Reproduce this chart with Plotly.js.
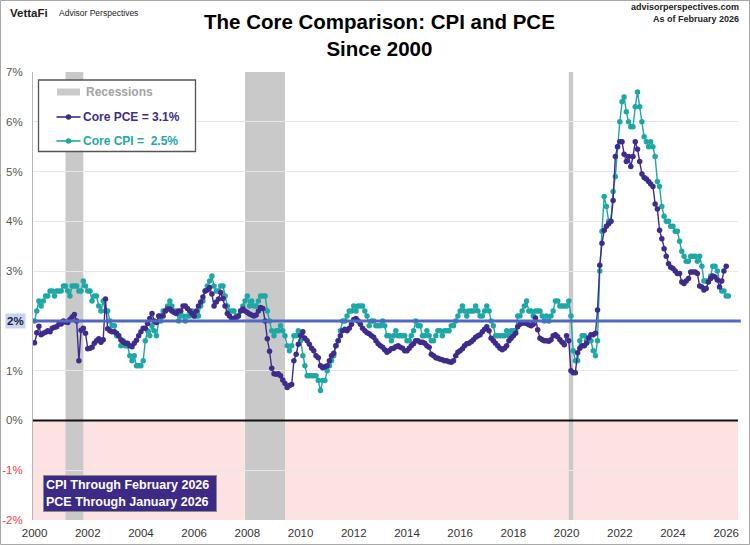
<!DOCTYPE html>
<html>
<head>
<meta charset="utf-8">
<script src="https://cdn.plot.ly/plotly-3.0.1.min.js"></script>
<style>
  html, body { margin: 0; padding: 0; background: #fff; }
  #chart { width: 750px; height: 545px; }
</style>
</head>
<body>
<div id="chart"></div>
<script>
// Monthly year-over-year core inflation, starting January 2000.
const firstYear = 2000;

// Core CPI, % y/y (Jan 2000 .. Feb 2026); October 2025 was not published.
const coreCpi = [
  2.0, 2.2, 2.4, 2.3, 2.4, 2.5, 2.5, 2.6, 2.6, 2.5, 2.6, 2.6,   // 2000
  2.6, 2.7, 2.7, 2.6, 2.5, 2.7, 2.7, 2.7, 2.6, 2.6, 2.8, 2.7,   // 2001
  2.6, 2.6, 2.4, 2.5, 2.5, 2.3, 2.2, 2.4, 2.2, 2.2, 2.0, 1.9,   // 2002
  1.9, 1.7, 1.7, 1.5, 1.6, 1.5, 1.5, 1.3, 1.2, 1.3, 1.1, 1.1,   // 2003
  1.1, 1.2, 1.6, 1.8, 1.7, 1.9, 1.8, 1.7, 2.0, 2.0, 2.2, 2.2,   // 2004
  2.3, 2.4, 2.3, 2.2, 2.2, 2.0, 2.1, 2.1, 2.0, 2.1, 2.1, 2.2,   // 2005
  2.1, 2.1, 2.1, 2.3, 2.4, 2.6, 2.7, 2.8, 2.9, 2.7, 2.6, 2.6,   // 2006
  2.7, 2.7, 2.5, 2.3, 2.2, 2.2, 2.2, 2.1, 2.1, 2.2, 2.3, 2.4,   // 2007
  2.5, 2.3, 2.4, 2.3, 2.3, 2.4, 2.5, 2.5, 2.5, 2.2, 2.0, 1.8,   // 2008
  1.7, 1.8, 1.8, 1.9, 1.8, 1.7, 1.5, 1.4, 1.5, 1.7, 1.7, 1.8,   // 2009
  1.6, 1.3, 1.1, 0.9, 0.9, 0.9, 0.9, 0.9, 0.8, 0.6, 0.8, 0.8,   // 2010
  1.0, 1.1, 1.2, 1.3, 1.5, 1.6, 1.8, 2.0, 2.0, 2.1, 2.2, 2.2,   // 2011
  2.3, 2.2, 2.3, 2.3, 2.3, 2.2, 2.1, 1.9, 2.0, 2.0, 1.9, 1.9,   // 2012
  1.9, 2.0, 1.9, 1.7, 1.7, 1.6, 1.7, 1.8, 1.7, 1.7, 1.7, 1.7,   // 2013
  1.6, 1.6, 1.7, 1.8, 2.0, 1.9, 1.9, 1.7, 1.7, 1.8, 1.7, 1.6,   // 2014
  1.6, 1.7, 1.8, 1.8, 1.7, 1.8, 1.8, 1.8, 1.9, 1.9, 2.0, 2.1,   // 2015
  2.2, 2.3, 2.2, 2.1, 2.2, 2.2, 2.2, 2.3, 2.2, 2.1, 2.1, 2.2,   // 2016
  2.3, 2.2, 2.0, 1.9, 1.7, 1.7, 1.7, 1.7, 1.7, 1.8, 1.7, 1.8,   // 2017
  1.8, 1.8, 2.1, 2.1, 2.2, 2.3, 2.4, 2.2, 2.2, 2.1, 2.2, 2.2,   // 2018
  2.2, 2.1, 2.0, 2.1, 2.0, 2.1, 2.2, 2.4, 2.4, 2.3, 2.3, 2.3,   // 2019
  2.3, 2.4, 2.1, 1.4, 1.2, 1.2, 1.6, 1.7, 1.7, 1.6, 1.6, 1.6,   // 2020
  1.4, 1.3, 1.6, 3.0, 3.8, 4.5, 4.3, 4.0, 4.0, 4.6, 4.9, 5.5,   // 2021
  6.0, 6.4, 6.5, 6.2, 6.0, 5.9, 5.9, 6.3, 6.6, 6.3, 6.0, 5.7,   // 2022
  5.6, 5.5, 5.6, 5.5, 5.3, 4.8, 4.7, 4.3, 4.1, 4.0, 4.0, 3.9,   // 2023
  3.9, 3.8, 3.8, 3.6, 3.4, 3.3, 3.2, 3.2, 3.3, 3.3, 3.3, 3.2,   // 2024
  3.3, 3.1, 2.8, 2.8, 2.8, 2.9, 3.1, 3.1, 3.0, null, 2.6, 2.6,  // 2025
  2.5, 2.5                                                      // 2026
];

// Core PCE price index, % y/y (Jan 2000 .. Jan 2026).
const corePce = [
  1.56, 1.76, 1.89, 1.72, 1.75, 1.77, 1.80, 1.78, 1.85, 1.87, 1.88, 1.94,   // 2000
  1.94, 2.00, 1.98, 1.97, 2.03, 2.08, 2.13, 2.00, 1.20, 1.81, 1.85, 1.75,   // 2001
  1.44, 1.45, 1.47, 1.55, 1.60, 1.64, 1.57, 1.62, 2.44, 1.84, 1.80, 1.78,   // 2002
  1.78, 1.75, 1.70, 1.62, 1.58, 1.55, 1.55, 1.50, 1.48, 1.55, 1.61, 1.70,   // 2003
  1.78, 1.85, 1.85, 1.95, 2.05, 2.15, 2.00, 1.97, 2.10, 2.10, 2.10, 2.20,   // 2004
  2.24, 2.24, 2.20, 2.17, 2.15, 2.20, 2.20, 2.30, 2.30, 2.25, 2.20, 2.15,   // 2005
  2.10, 2.20, 2.30, 2.38, 2.48, 2.60, 2.62, 2.67, 2.54, 2.30, 2.38, 2.44,   // 2006
  2.57, 2.45, 2.30, 2.15, 2.10, 2.05, 2.05, 2.07, 2.10, 2.20, 2.24, 2.20,   // 2007
  2.17, 2.14, 2.12, 2.10, 2.12, 2.20, 2.27, 2.25, 2.00, 1.64, 1.39, 1.05,   // 2008
  0.94, 0.93, 0.94, 0.90, 0.81, 0.74, 0.66, 0.70, 0.72, 1.20, 1.33, 1.53,   // 2009
  1.70, 1.78, 1.65, 1.60, 1.53, 1.45, 1.40, 1.30, 1.26, 1.10, 1.06, 1.08,   // 2010
  1.10, 1.20, 1.30, 1.35, 1.50, 1.60, 1.70, 1.80, 1.83, 1.80, 1.85, 1.93,   // 2011
  2.03, 2.05, 2.00, 1.93, 1.85, 1.80, 1.76, 1.74, 1.70, 1.67, 1.60, 1.54,   // 2012
  1.50, 1.47, 1.42, 1.37, 1.40, 1.44, 1.45, 1.48, 1.50, 1.47, 1.45, 1.40,   // 2013
  1.40, 1.45, 1.50, 1.54, 1.60, 1.60, 1.57, 1.57, 1.55, 1.50, 1.47, 1.33,   // 2014
  1.30, 1.26, 1.25, 1.23, 1.22, 1.20, 1.20, 1.18, 1.17, 1.20, 1.30, 1.37,   // 2015
  1.40, 1.44, 1.50, 1.54, 1.55, 1.58, 1.62, 1.67, 1.70, 1.72, 1.78, 1.83,   // 2016
  1.88, 1.80, 1.65, 1.60, 1.55, 1.50, 1.45, 1.42, 1.45, 1.50, 1.60, 1.65,   // 2017
  1.70, 1.75, 1.88, 1.93, 1.96, 1.96, 1.95, 1.92, 1.90, 1.93, 2.06, 1.82,   // 2018
  1.65, 1.62, 1.60, 1.60, 1.59, 1.62, 1.70, 1.72, 1.68, 1.62, 1.57, 1.52,   // 2019
  1.70, 1.60, 1.00, 0.96, 0.96, 1.36, 1.45, 1.50, 1.50, 1.55, 1.66, 1.72,   // 2020
  1.72, 1.75, 2.22, 3.12, 3.56, 3.82, 3.90, 3.95, 4.00, 4.42, 5.30, 5.50,   // 2021
  5.60, 5.60, 5.35, 5.20, 5.30, 5.10, 5.30, 5.60, 5.45, 5.20, 4.95, 4.88,   // 2022
  4.85, 4.80, 4.75, 4.70, 4.35, 4.25, 3.82, 3.65, 3.45, 3.30, 3.15, 3.08,   // 2023
  3.05, 3.00, 2.95, 2.95, 2.78, 2.75, 2.80, 2.85, 2.98, 2.98, 2.98, 2.95,   // 2024
  2.70, 2.68, 2.62, 2.65, 2.78, 2.85, 2.90, 2.88, 2.82, 2.68, 2.80, 3.00,   // 2025
  3.10                                                                      // 2026
];

// NBER recessions (start, end).
const recessionStarts = ['2001-03-01', '2007-12-01', '2020-02-01'];
const recessionEnds   = ['2001-11-01', '2009-06-01', '2020-04-01'];

// Axis ticks.
const xTickYears = [2000, 2002, 2004, 2006, 2008, 2010, 2012, 2014, 2016, 2018, 2020, 2022, 2024, 2026];
const yTickValues = [-2, -1, 0, 1, 2, 3, 4, 5, 6, 7];
const fedTarget = 2;

const monthNames = ['January', 'February', 'March', 'April', 'May', 'June', 'July',
                    'August', 'September', 'October', 'November', 'December'];

function monthDates(n) {
  const out = [];
  for (let i = 0; i < n; i++) {
    const y = firstYear + Math.floor(i / 12);
    const m = (i % 12) + 1;
    out.push(y + '-' + String(m).padStart(2, '0') + '-01');
  }
  return out;
}
function lastValue(arr) {
  for (let i = arr.length - 1; i >= 0; i--) if (arr[i] !== null) return arr[i];
  return null;
}
function lastMonthLabel(arr) {
  const i = arr.length - 1;
  return monthNames[i % 12] + ' ' + (firstYear + Math.floor(i / 12));
}

const pceColor = '#3f2b8c';
const cpiColor = '#1fa7a5';
const font = 'Arial, "Liberation Sans", sans-serif';

const traces = [
  {
    type: 'scatter', mode: 'lines+markers', name: 'Core CPI',
    x: monthDates(coreCpi.length), y: coreCpi, connectgaps: true,
    line: { color: cpiColor, width: 1.4 },
    marker: { color: cpiColor, size: 5.5 }
  },
  {
    type: 'scatter', mode: 'lines+markers', name: 'Core PCE',
    x: monthDates(corePce.length), y: corePce, connectgaps: true,
    line: { color: pceColor, width: 1.4 },
    marker: { color: pceColor, size: 5.5 }
  }
];

// Plot-area pixel helpers (plot area: x 33..738, y 72..520)
const L = 33, R = 738, T = 72, B = 520;
const px = v => (v - L) / (R - L);
const py = v => (B - v) / (B - T);

const shapes = [];
// Deflation zone below 0%
shapes.push({ type: 'rect', xref: 'paper', yref: 'y', x0: 0, x1: 1, y0: -2, y1: 0,
  fillcolor: '#fde2e2', line: { width: 0 }, layer: 'below' });
// Recession bands
recessionStarts.forEach((s, i) => shapes.push({
  type: 'rect', xref: 'x', yref: 'paper', x0: s, x1: recessionEnds[i], y0: 0, y1: 1,
  fillcolor: '#c9c9c9', line: { width: 0 }, layer: 'below'
}));
// Zero line and 2% target line
shapes.push({ type: 'line', xref: 'paper', yref: 'y', x0: 0, x1: 1, y0: 0, y1: 0,
  line: { color: '#111', width: 2 }, layer: 'above' });
shapes.push({ type: 'line', xref: 'paper', yref: 'y', x0: 0, x1: 1.004, y0: fedTarget, y1: fedTarget,
  line: { color: '#5167c2', width: 3 }, layer: 'above' });

// Legend box
shapes.push({ type: 'rect', xref: 'paper', yref: 'paper',
  x0: px(38.5), x1: px(195.5), y0: py(151.5), y1: py(80),
  fillcolor: '#ffffff', line: { color: '#555', width: 1.3 }, layer: 'above' });
shapes.push({ type: 'rect', xref: 'paper', yref: 'paper',
  x0: px(57), x1: px(80), y0: py(95.5), y1: py(88.5),
  fillcolor: '#c9c9c9', line: { width: 0 }, layer: 'above' });
[[117, pceColor], [141, cpiColor]].forEach(([yy, c]) => {
  shapes.push({ type: 'line', xref: 'paper', yref: 'paper',
    x0: px(56.5), x1: px(80.5), y0: py(yy), y1: py(yy), line: { color: c, width: 1.6 }, layer: 'above' });
  shapes.push({ type: 'circle', xref: 'paper', yref: 'paper',
    x0: px(65.8), x1: px(71.2), y0: py(yy + 2.7), y1: py(yy - 2.7),
    fillcolor: c, line: { width: 0 }, layer: 'above' });
});
// Outer frame
shapes.push({ type: 'rect', xref: 'paper', yref: 'paper',
  x0: px(0.5), x1: px(749.5), y0: py(544.5), y1: py(0.5),
  line: { color: '#a8a8a8', width: 1 }, fillcolor: 'rgba(0,0,0,0)', layer: 'above' });

const pceLast = lastValue(corePce).toFixed(1);
const cpiLast = lastValue(coreCpi).toFixed(1);

const annotations = [
  // Chart title
  { xref: 'paper', yref: 'paper', x: px(379), y: py(8), xanchor: 'center', yanchor: 'top',
    text: '<b>The Core Comparison: CPI and PCE<br>Since 2000</b>', showarrow: false, align: 'center',
    font: { family: font, size: 20.5, color: '#000' } },
  // Legend entries
  { xref: 'paper', yref: 'paper', x: px(84), y: py(92), xanchor: 'left', yanchor: 'middle',
    text: '<b>Recessions</b>', showarrow: false, font: { family: font, size: 12, color: '#a3a3a3' } },
  { xref: 'paper', yref: 'paper', x: px(80.5), y: py(117), xanchor: 'left', yanchor: 'middle',
    text: '<b>Core PCE = ' + pceLast + '%</b>', showarrow: false, font: { family: font, size: 12, color: pceColor } },
  { xref: 'paper', yref: 'paper', x: px(80.5), y: py(141), xanchor: 'left', yanchor: 'middle',
    text: '<b>Core CPI =\u00a0 ' + cpiLast + '%</b>', showarrow: false, font: { family: font, size: 12, color: cpiColor } },
  // Data-through note
  { xref: 'paper', yref: 'paper', x: px(129.5), y: py(493.5), xanchor: 'center', yanchor: 'middle',
    text: '<b>CPI Through ' + lastMonthLabel(coreCpi) + '<br>PCE Through ' + lastMonthLabel(corePce) + '</b>',
    showarrow: false, align: 'left', width: 168, height: 31,
    bgcolor: '#3d2a86', bordercolor: '#8a8a8a', borderwidth: 1, borderpad: 2,
    font: { family: font, size: 12.5, color: '#ffffff' } },
  // Highlighted 2% tick label
  { xref: 'paper', yref: 'y', x: px(26), y: fedTarget, xanchor: 'right', yanchor: 'middle',
    text: '<b>2%</b>', showarrow: false, bgcolor: '#c9d4f2', borderpad: 1,
    font: { family: font, size: 11.5, color: '#1a1a40' } },
  // Branding
  { xref: 'paper', yref: 'paper', x: px(8), y: py(13), xanchor: 'left', yanchor: 'middle',
    text: '<b>VettaFi</b>', showarrow: false, font: { family: font, size: 11.5, color: '#222' } },
  { xref: 'paper', yref: 'paper', x: px(57), y: py(13.5), xanchor: 'left', yanchor: 'middle',
    text: 'Advisor Perspectives', showarrow: false, font: { family: font, size: 8.5, color: '#222' } },
  { xref: 'paper', yref: 'paper', x: px(741), y: py(13.5), xanchor: 'right', yanchor: 'middle',
    text: '<b>advisorperspectives.com<br>As of February 2026</b>', showarrow: false, align: 'right',
    font: { family: font, size: 9, color: '#222' } }
];

const layout = {
  width: 750, height: 545,
  margin: { l: L, r: 750 - R, t: T, b: 545 - B, pad: 0 },
  paper_bgcolor: '#ffffff', plot_bgcolor: '#ffffff',
  showlegend: false,
  font: { family: font },
  xaxis: {
    type: 'date',
    range: ['1999-12-11', '2026-06-12'],
    tickmode: 'array',
    tickvals: xTickYears.map(y => y + '-01-01'),
    ticktext: xTickYears.map(String),
    showgrid: false, zeroline: false,
    showline: false,
    ticks: 'outside', ticklen: 2, tickcolor: 'rgba(0,0,0,0)',
    tickfont: { family: font, size: 11.5, color: '#333' },
    fixedrange: true
  },
  yaxis: {
    range: [-2, 7],
    tickmode: 'array',
    tickvals: yTickValues,
    ticktext: yTickValues.map(v => v === fedTarget ? '' :
      (v < 0 ? '<span style="color:#f03c3c">' + v + '%</span>' : v + '%')),
    showgrid: true, gridcolor: '#e6e6e6', gridwidth: 1,
    zeroline: false,
    showline: true, linecolor: '#b5b5b5', linewidth: 1,
    ticks: 'outside', ticklen: 7, tickcolor: 'rgba(0,0,0,0)',
    tickfont: { family: font, size: 11.5, color: '#555' },
    fixedrange: true
  },
  shapes: shapes,
  annotations: annotations
};

Plotly.newPlot('chart', traces, layout, { displayModeBar: false, staticPlot: true });
</script>
</body>
</html>
